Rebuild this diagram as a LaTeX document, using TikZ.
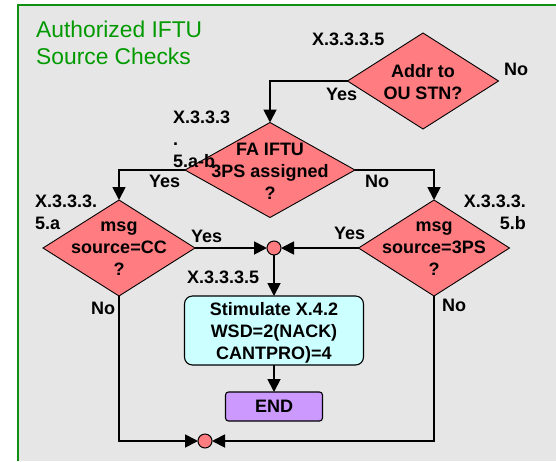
\documentclass[tikz,border=0pt]{standalone}
\usepackage{fontspec}
\setmainfont{Liberation Sans}
\usetikzlibrary{shapes.geometric,arrows.meta}
\definecolor{panelbg}{HTML}{E6E6E6}
\definecolor{framegreen}{HTML}{109010}
\definecolor{titlegreen}{HTML}{009A00}
\definecolor{decfill}{HTML}{FF7C80}
\definecolor{actfill}{HTML}{CCFFFF}
\definecolor{endfill}{HTML}{CC99FF}
\tikzset{
  decision/.style={diamond, draw=black, line width=0.9pt, fill=decfill, inner sep=0pt, outer sep=0pt},
  dtext/.style={inner sep=0pt, align=center, font=\fontsize{18}{22}\selectfont\bfseries},
  lbl/.style={inner sep=0pt, font=\fontsize{18}{22}\selectfont\bfseries},
  junction/.style={circle, draw=black, line width=1pt, fill=decfill, minimum size=14pt, inner sep=0pt, outer sep=0pt},
  actbox/.style={draw=black, line width=1.1pt, fill=actfill, rounded corners=8pt, minimum width=179pt, minimum height=69pt, inner sep=0pt, outer sep=0pt, align=center, text depth=0pt, font=\fontsize{18}{22}\selectfont\bfseries},
  endbox/.style={draw=black, line width=1.1pt, fill=endfill, rounded corners=3pt, minimum width=97pt, minimum height=29pt, inner sep=0pt, outer sep=0pt, font=\fontsize{18}{22}\selectfont\bfseries},
  conn/.style={line width=1.8pt, draw=black},
  arr/.style={conn, -{Triangle[length=13pt,width=13pt]}}
}
\begin{document}
\begin{tikzpicture}[x=1pt,y=-1pt]
\useasboundingbox (0,0) rectangle (556,461);
\fill[white] (0,0) rectangle (556,461);
\fill[panelbg] (18,5) rectangle (556,461);
\draw[framegreen, line width=2pt] (18,461) -- (18,5) -- (556,5);

\node[inner sep=0pt, anchor=north west, align=left, text=titlegreen, font=\fontsize{22.8}{27}\selectfont] (title) at (36,20.6) {Authorized IFTU\\Source Checks};

% decisions
\node[decision, minimum width=151pt, minimum height=96pt] (d1) at (423,81) {};
\node[decision, minimum width=170pt, minimum height=95pt] (d2) at (270,170) {};
\node[decision, minimum width=152pt, minimum height=96pt] (d3) at (119,248) {};
\node[decision, minimum width=151pt, minimum height=96pt] (d4) at (434,248) {};

\node[dtext] (t1) at (423,82) {Addr to\\OU STN?};
\node[dtext] (t2) at (270,171.5) {FA IFTU\\3PS assigned\\?};
\node[dtext] (t3) at (119,249) {msg\\source=CC\\?};
\node[dtext] (t4) at (434,249) {msg\\source=3PS\\?};

% junctions
\node[junction] (c1) at (274,248) {};
\node[junction] (c2) at (205,441) {};

% action and end
\node[actbox] (act) at (274,330.5) {Stimulate X.4.2\\WSD=2(NACK)\\CANTPRO)=4};
\node[endbox] (fin) at (274,406.5) {END};

% connectors
\draw[arr] (d1.west) -| (d2.north);
\draw[arr] (d2.west) -| (d3.north);
\draw[arr] (d2.east) -| (d4.north);
\draw[arr] (d3.east) -- (c1.west);
\draw[arr] (d4.west) -- (c1.east);
\draw[arr] (c1.south) -- (act.north);
\draw[arr] (act.south) -- (fin.north);
\draw[arr] (d3.south) |- (c2.west);
\draw[arr] (d4.south) |- (c2.east);

% labels
\node[lbl, anchor=base west] (l1) at (312,45.4) {X.3.3.3.5};
\node[lbl, anchor=base west] (l2) at (504,75.4) {No};
\node[lbl, anchor=base west] (l3) at (326,100.4) {Yes};
\node[lbl, anchor=north west, align=left] (l4) at (173,110.6) {X.3.3.3\\.\\5.a-b};
\node[lbl, anchor=base west] (l5) at (149,187.4) {Yes};
\node[lbl, anchor=base west] (l6) at (365,187.4) {No};
\node[lbl, anchor=north west, align=left] (l7) at (35,194.6) {X.3.3.3.\\5.a};
\node[lbl, anchor=north east, align=right] (l8) at (526,194.6) {X.3.3.3.\\5.b};
\node[lbl, anchor=base west] (l9) at (191,242.4) {Yes};
\node[lbl, anchor=base west] (l10) at (334,239.4) {Yes};
\node[lbl, anchor=base west] (l11) at (187,283.4) {X.3.3.3.5};
\node[lbl, anchor=base west] (l12) at (91,314.4) {No};
\node[lbl, anchor=base west] (l13) at (442,311.4) {No};
\end{tikzpicture}
\end{document}
